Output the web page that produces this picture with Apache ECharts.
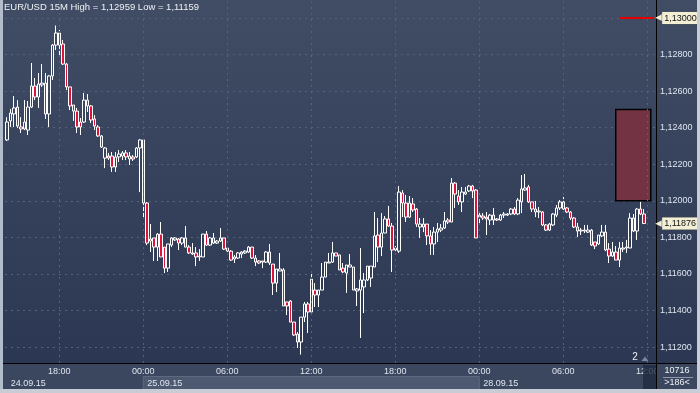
<!DOCTYPE html>
<html><head><meta charset="utf-8">
<script src="https://cdn.jsdelivr.net/npm/echarts@6/dist/echarts.min.js"></script>
<style>html,body{margin:0;padding:0;background:#2f3a55}#c{width:700px;height:393px}</style>
</head><body><div id="c"></div>
<script>
// ---- sessions / categories ----
const sessionDays = ['24.09.15', '25.09.15', '28.09.15'];
const sessionStart = ['14:15', '00:00', '00:00'];
const sessionBars = [39, 96, 51];
const timeTickLabels = ['18:00', '00:00', '06:00', '12:00'];
const titleText = 'EUR/USD 15M High = 1,12959 Low = 1,11159';
const barsInfo = ['10716', '>186<'];
const pageMarker = '2';

// ---- OHLC (15 min bars) ----
const open = [
1.12333,1.12437,1.12475,1.12513,1.12404,1.12393,1.12387,1.12513,1.12628,1.12568,
1.12634,1.12644,1.12475,1.12683,1.12852,1.12918,1.12858,1.12748,1.12623,1.12524,
1.12491,1.12431,1.12431,1.12551,1.12519,1.12448,1.12404,1.12355,1.12234,1.12245,
1.12245,1.12185,1.12240,1.12245,1.12262,1.12229,1.12240,1.12240,1.12289,1.12333,
1.11988,1.11780,1.11797,1.11747,1.11818,1.11747,1.11632,1.11758,1.11786,1.11791,
1.11769,1.11797,1.11747,1.11715,1.11715,1.11693,1.11693,1.11818,1.11758,1.11797,
1.11769,1.11780,1.11797,1.11742,1.11725,1.11682,1.11687,1.11709,1.11715,1.11720,
1.11747,1.11687,1.11671,1.11665,1.11665,1.11720,1.11654,1.11550,1.11616,1.11622,
1.11447,1.11452,1.11337,1.11271,1.11228,1.11364,1.11436,1.11392,1.11512,1.11485,
1.11512,1.11583,1.11660,1.11665,1.11715,1.11704,1.11632,1.11605,1.11638,1.11638,
1.11507,1.11512,1.11529,1.11567,1.11578,1.11638,1.11813,1.11747,1.11824,1.11901,
1.11862,1.11731,1.11725,1.12043,1.11988,1.11911,1.11983,1.11955,1.11857,1.11873,
1.11873,1.11808,1.11764,1.11829,1.11840,1.11851,1.11895,1.11884,1.12097,1.12026,
1.11994,1.12037,1.12054,1.12081,1.12059,1.11911,1.11917,1.11911,1.11895,1.11922,
1.11901,1.11895,1.11922,1.11922,1.11928,1.11955,1.11928,1.11994,1.12059,1.12076,
1.11994,1.11955,1.11939,1.11939,1.11868,1.11840,1.11868,1.11922,1.11961,1.11994,
1.11961,1.11939,1.11906,1.11857,1.11840,1.11835,1.11829,1.11840,1.11775,1.11764,
1.11808,1.11829,1.11736,1.11698,1.11720,1.11676,1.11736,1.11742,1.11742,1.11906,
1.11835,1.11955,1.11928];
const close = [
1.12431,1.12480,1.12508,1.12409,1.12393,1.12431,1.12513,1.12628,1.12568,1.12639,
1.12644,1.12475,1.12683,1.12852,1.12918,1.12852,1.12748,1.12623,1.12519,1.12491,
1.12404,1.12404,1.12551,1.12519,1.12442,1.12409,1.12355,1.12294,1.12289,1.12234,
1.12185,1.12240,1.12256,1.12262,1.12240,1.12245,1.12229,1.12289,1.12333,1.11988,
1.11769,1.11791,1.11747,1.11818,1.11693,1.11632,1.11764,1.11797,1.11797,1.11769,
1.11797,1.11747,1.11715,1.11709,1.11693,1.11698,1.11818,1.11758,1.11797,1.11769,
1.11780,1.11797,1.11736,1.11725,1.11676,1.11693,1.11715,1.11720,1.11725,1.11747,
1.11687,1.11665,1.11660,1.11671,1.11720,1.11660,1.11550,1.11627,1.11627,1.11425,
1.11425,1.11337,1.11266,1.11228,1.11364,1.11436,1.11392,1.11572,1.11485,1.11512,
1.11583,1.11665,1.11665,1.11715,1.11698,1.11622,1.11611,1.11649,1.11649,1.11512,
1.11518,1.11567,1.11567,1.11643,1.11643,1.11808,1.11747,1.11824,1.11901,1.11862,
1.11731,1.11742,1.12048,1.11988,1.11911,1.11988,1.11950,1.11873,1.11873,1.11857,
1.11808,1.11764,1.11829,1.11846,1.11851,1.11890,1.11884,1.12097,1.12037,1.11994,
1.12048,1.12048,1.12081,1.12054,1.11797,1.11922,1.11906,1.11901,1.11922,1.11895,
1.11895,1.11922,1.11928,1.11928,1.11955,1.11928,1.12004,1.12065,1.12070,1.11994,
1.11955,1.11939,1.11944,1.11868,1.11840,1.11873,1.11928,1.11961,1.11994,1.11955,
1.11939,1.11906,1.11857,1.11835,1.11835,1.11840,1.11840,1.11758,1.11753,1.11813,
1.11829,1.11731,1.11698,1.11720,1.11676,1.11742,1.11742,1.11747,1.11906,1.11835,
1.11955,1.11928,1.11876];
const low = [
1.12327,1.12404,1.12404,1.12398,1.12371,1.12387,1.12360,1.12508,1.12551,1.12508,
1.12623,1.12448,1.12404,1.12661,1.12825,1.12787,1.12743,1.12606,1.12497,1.12437,
1.12371,1.12360,1.12426,1.12486,1.12426,1.12387,1.12349,1.12289,1.12179,1.12223,
1.12158,1.12158,1.12212,1.12223,1.12223,1.12196,1.12218,1.12234,1.12048,1.11911,
1.11758,1.11720,1.11671,1.11671,1.11693,1.11605,1.11611,1.11747,1.11780,1.11731,
1.11758,1.11747,1.11709,1.11704,1.11643,1.11671,1.11693,1.11753,1.11753,1.11764,
1.11764,1.11775,1.11731,1.11720,1.11671,1.11660,1.11682,1.11687,1.11709,1.11715,
1.11682,1.11643,1.11654,1.11632,1.11660,1.11649,1.11485,1.11501,1.11616,1.11425,
1.11375,1.11337,1.11261,1.11195,1.11159,1.11337,1.11277,1.11392,1.11419,1.11419,
1.11512,1.11583,1.11660,1.11660,1.11698,1.11622,1.11605,1.11496,1.11638,1.11512,
1.11425,1.11250,1.11386,1.11561,1.11529,1.11638,1.11665,1.11698,1.11824,1.11857,
1.11611,1.11725,1.11715,1.11911,1.11884,1.11906,1.11939,1.11857,1.11797,1.11829,
1.11758,1.11704,1.11704,1.11775,1.11829,1.11846,1.11873,1.11884,1.11961,1.11977,
1.11939,1.12032,1.12048,1.12015,1.11797,1.11868,1.11895,1.11813,1.11868,1.11868,
1.11890,1.11890,1.11906,1.11917,1.11922,1.11922,1.11922,1.11933,1.12054,1.11988,
1.11939,1.11911,1.11906,1.11862,1.11835,1.11835,1.11862,1.11911,1.11950,1.11950,
1.11933,1.11895,1.11851,1.11802,1.11813,1.11824,1.11824,1.11753,1.11736,1.11758,
1.11802,1.11725,1.11660,1.11693,1.11676,1.11638,1.11720,1.11715,1.11742,1.11829,
1.11786,1.11922,1.11873];
const high = [
1.12458,1.12502,1.12573,1.12551,1.12458,1.12551,1.12546,1.12754,1.12672,1.12699,
1.12748,1.12699,1.12688,1.12858,1.12959,1.12934,1.12880,1.12754,1.12623,1.12524,
1.12508,1.12453,1.12590,1.12584,1.12524,1.12469,1.12415,1.12360,1.12294,1.12262,
1.12267,1.12267,1.12278,1.12272,1.12278,1.12267,1.12251,1.12294,1.12338,1.12338,
1.11994,1.11873,1.11797,1.11824,1.11884,1.11747,1.11764,1.11802,1.11802,1.11797,
1.11802,1.11862,1.11758,1.11769,1.11747,1.11736,1.11818,1.11835,1.11802,1.11824,
1.11786,1.11851,1.11797,1.11747,1.11731,1.11704,1.11720,1.11725,1.11731,1.11753,
1.11747,1.11704,1.11676,1.11671,1.11725,1.11764,1.11654,1.11627,1.11715,1.11632,
1.11447,1.11457,1.11337,1.11282,1.11364,1.11447,1.11447,1.11600,1.11550,1.11512,
1.11660,1.11665,1.11715,1.11775,1.11715,1.11704,1.11660,1.11649,1.11709,1.11638,
1.11523,1.11742,1.11605,1.11643,1.11643,1.11939,1.11906,1.11933,1.11917,1.11972,
1.11879,1.11753,1.12081,1.12059,1.12032,1.12026,1.12015,1.11961,1.11906,1.11906,
1.11873,1.11840,1.11857,1.11879,1.11873,1.11939,1.11906,1.12125,1.12103,1.12059,
1.12076,1.12076,1.12087,1.12087,1.12065,1.11939,1.11933,1.11939,1.11928,1.11961,
1.11906,1.11928,1.11939,1.11933,1.11961,1.11966,1.12015,1.12141,1.12147,1.12087,
1.11994,1.11999,1.11966,1.11944,1.11873,1.11879,1.11933,1.11977,1.12004,1.12021,
1.11966,1.11944,1.11911,1.11879,1.11851,1.11868,1.11868,1.11846,1.11775,1.11813,
1.11868,1.11868,1.11769,1.11775,1.11753,1.11775,1.11775,1.11786,1.11933,1.11928,
1.11961,1.11994,1.11955];

// ---- levels / objects ----
const lastPrice = 1.11876;
const alertLevel = 1.13;
const zonePrices = [1.125, 1.12];
const zoneBars = [174, 184];
const alertBars = [175, 185];
const yRange = [1.11113, 1.130985];

// ---- build ----
const categories = [];
sessionDays.forEach((d, k) => {
  const [h, m] = sessionStart[k].split(':').map(Number);
  const t0 = h * 60 + m;
  for (let j = 0; j < sessionBars[k]; j++) {
    const t = t0 + j * 15;
    categories.push(d + ' ' + String(Math.floor(t / 60)).padStart(2, '0') + ':' + String(t % 60).padStart(2, '0'));
  }
});
const hm = c => c.slice(9);
const fmt = v => v.toFixed(5).replace('.', ',');
const ohlc = open.map((o, i) => [o, close[i], low[i], high[i]]);
const gridIdx = [];
categories.forEach((c, i) => { if (timeTickLabels.includes(hm(c))) gridIdx.push(i); });
const dayStartIdx = [];
categories.forEach((c, i) => { if (i === 0 || hm(c) === '00:00') dayStartIdx.push(i); });

const FONT = 'Liberation Sans';
const LBL = '#dfe6f0';
const tagLabel = txt => ({
  show: true, position: 'end', distance: 1, formatter: '{a|◀}{b|' + txt + '}',
  rich: {
    a: {color: '#f3efd6', fontSize: 9, fontFamily: 'DejaVu Sans', padding: [0, 0, 0, 0]},
    b: {backgroundColor: '#f3efd6', color: '#111', fontSize: 9, fontFamily: FONT,
        padding: [2, 2, 1, 2], borderColor: '#555', borderWidth: 0.5}
  }
});

const chart = echarts.init(document.getElementById('c'), null, {renderer: 'canvas'});
chart.setOption({
  animation: false,
  title: {text: titleText, left: 4, top: 2, padding: 0,
    textStyle: {color: '#eef1f5', fontSize: 9.5, fontWeight: 'normal', fontFamily: FONT}},
  grid: {left: 5, right: 44, top: 0, bottom: 30, containLabel: false},
  xAxis: [{
    type: 'category', data: categories, boundaryGap: true,
    axisLine: {show: true, lineStyle: {color: '#000', width: 1}},
    axisTick: {show: false},
    axisLabel: {interval: (i, v) => timeTickLabels.includes(hm(v)), formatter: v => hm(v),
      color: LBL, fontSize: 9, fontFamily: FONT, margin: 4},
    splitLine: {show: false}
  }, {
    type: 'category', data: categories, boundaryGap: true, position: 'bottom', offset: 12,
    axisLine: {show: false}, axisTick: {show: false},
    axisLabel: {interval: (i, v) => i === 0 || hm(v) === '00:00', formatter: v => v.slice(0, 8),
      align: 'left', padding: [0, 0, 0, 4], color: LBL, fontSize: 9, fontFamily: FONT, margin: 4},
    splitLine: {show: false}
  }],
  yAxis: {
    type: 'value', position: 'right', min: yRange[0], max: yRange[1], splitNumber: 10,
    axisLine: {show: true, lineStyle: {color: '#000', width: 1}},
    axisTick: {show: false},
    axisLabel: {color: LBL, fontSize: 9, fontFamily: FONT, margin: 4,
      showMinLabel: false, showMaxLabel: false, formatter: v => fmt(v)},
    splitLine: {show: true, showMinLine: false, showMaxLine: false,
      lineStyle: {color: '#55627c', type: [2, 4], width: 1}}
  },
  series: [{
    type: 'line', data: [], z: 1, silent: true,
    markLine: {silent: true, symbol: ['none', 'none'], label: {show: false},
      lineStyle: {color: '#55627c', type: [2, 4], width: 1},
      data: gridIdx.map(i => ({xAxis: categories[i]}))}
  }, {
    type: 'candlestick', data: ohlc, barWidth: 3, z: 2, clip: false,
    itemStyle: {color: 'transparent', color0: '#dc143c', borderColor: '#ffffff', borderColor0: '#ffffff', borderWidth: 1},
    markArea: {silent: true,
      itemStyle: {color: '#743342', borderColor: '#000', borderWidth: 1.5, opacity: 1},
      data: [[{coord: [categories[zoneBars[0]], zonePrices[0]]}, {coord: [categories[zoneBars[1]], zonePrices[1]]}]]},
    markLine: {silent: true, symbol: ['none', 'none'], animation: false,
      data: [
        [{coord: [categories[alertBars[0]], alertLevel], lineStyle: {color: '#e60000', width: 2, type: 'solid'}, label: tagLabel(fmt(alertLevel))},
         {coord: [categories[alertBars[1]], alertLevel]}],
        [{coord: [categories[alertBars[1] - 1], lastPrice], lineStyle: {color: 'rgba(0,0,0,0)', width: 1}, label: tagLabel(fmt(lastPrice))},
         {coord: [categories[alertBars[1]], lastPrice]}]
      ]}
  }]
});

const px = i => chart.convertToPixel({xAxisIndex: 0}, categories[i]);
chart.setOption({
  graphic: [
    {type: 'rect', z: -10, silent: true, shape: {x: 0, y: 0, width: 700, height: 364},
      style: {fill: new echarts.graphic.LinearGradient(0, 0, 0, 1, [
        {offset: 0, color: '#414d65'}, {offset: 0.5, color: '#36425b'}, {offset: 1, color: '#2c3753'}])}},
    {type: 'rect', z: -9, silent: true, shape: {x: 0, y: 364, width: 700, height: 26}, style: {fill: '#3b475f'}},
    {type: 'rect', z: -8, silent: true, shape: {x: px(dayStartIdx[1]), y: 376.5, width: px(dayStartIdx[2]) - px(dayStartIdx[1]), height: 13},
      style: {fill: '#4d5971', stroke: '#5d6981', lineWidth: 1}},
    {type: 'rect', z: 4, silent: true, shape: {x: 643, y: 365, width: 13, height: 24}, style: {fill: 'rgba(32,42,64,0.8)'}},
    {type: 'rect', z: 5, silent: true, shape: {x: 657, y: 364, width: 40, height: 25}, style: {fill: '#3b475f'}},
    {type: 'line', z: 6, silent: true, shape: {x1: 0, y1: 363.5, x2: 700, y2: 363.5}, style: {stroke: '#000', lineWidth: 1}},
    {type: 'line', z: 6, silent: true, shape: {x1: 656.5, y1: 363, x2: 656.5, y2: 389}, style: {stroke: '#000', lineWidth: 1}},
    {type: 'line', z: 6, silent: true, shape: {x1: 663, y1: 377.5, x2: 693, y2: 377.5}, style: {stroke: '#8e98aa', lineWidth: 1}},
    {type: 'text', z: 6, silent: true, x: 677, y: 371, style: {text: barsInfo[0], fill: '#eef1f5', font: '9px "Liberation Sans"', textAlign: 'center', textVerticalAlign: 'middle'}},
    {type: 'text', z: 6, silent: true, x: 677, y: 383, style: {text: barsInfo[1], fill: '#eef1f5', font: '9px "Liberation Sans"', textAlign: 'center', textVerticalAlign: 'middle'}},
    {type: 'text', z: 6, silent: true, x: 635, y: 357, style: {text: pageMarker, fill: '#eef1f5', font: '10px "Liberation Sans"', textAlign: 'center', textVerticalAlign: 'middle'}},
    {type: 'polygon', z: 6, silent: true, shape: {points: [[641.5, 361], [645, 356.5], [648.5, 361]]}, style: {fill: '#7a859a'}},
    {type: 'rect', z: 7, silent: true, shape: {x: 0, y: 0, width: 3, height: 393}, style: {fill: '#b3bccb'}},
    {type: 'rect', z: 7, silent: true, shape: {x: 0, y: 389, width: 700, height: 4}, style: {fill: '#c8ccd4'}},
    {type: 'rect', z: 7, silent: true, shape: {x: 697, y: 0, width: 3, height: 393}, style: {fill: '#c8ccd4'}}
  ]
});
</script></body></html>
